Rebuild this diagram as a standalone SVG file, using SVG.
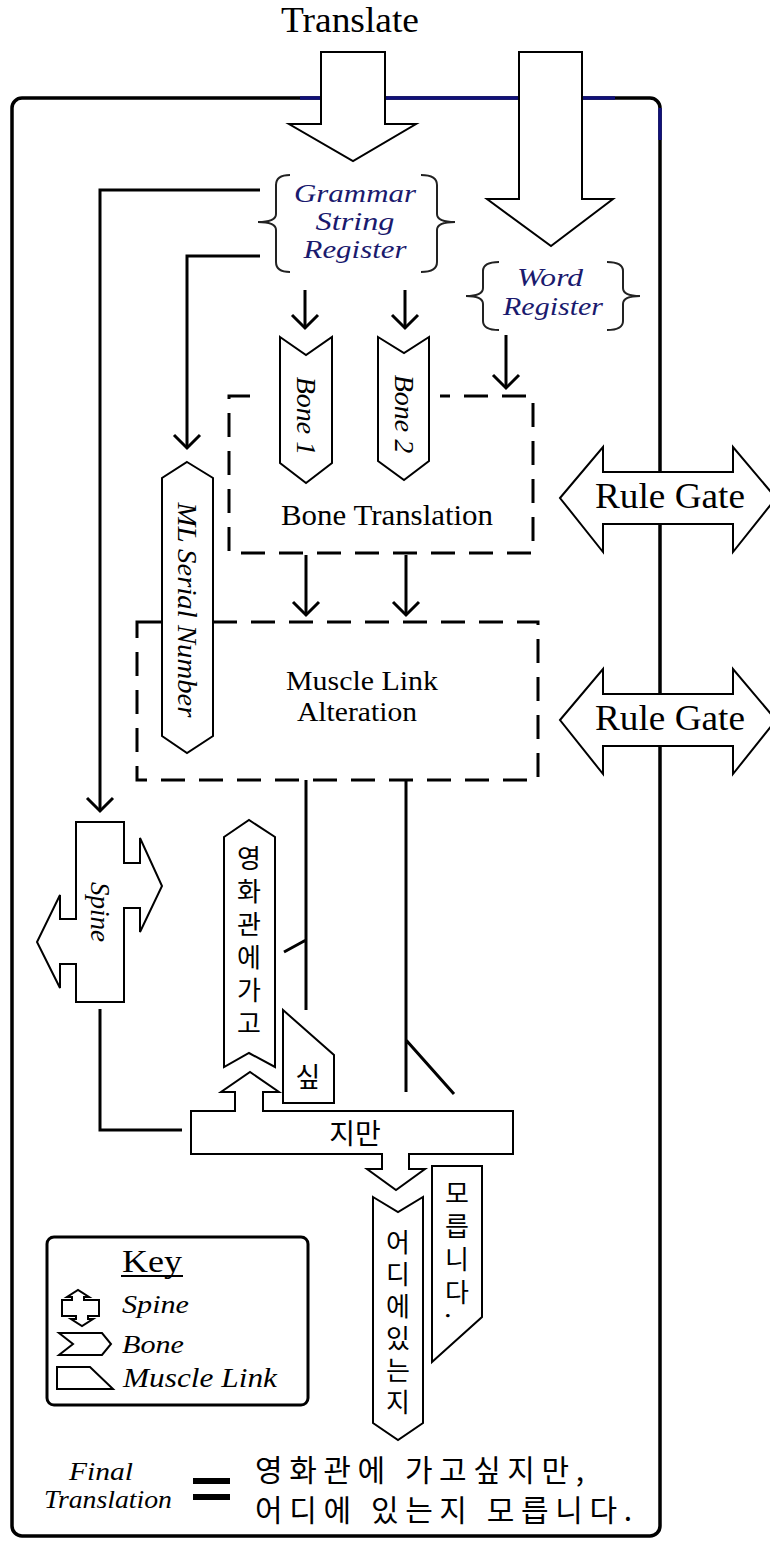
<svg xmlns="http://www.w3.org/2000/svg" width="770" height="1541" viewBox="0 0 770 1541">
<style>
.ln{stroke:#000;stroke-width:3;fill:none}
.sh{fill:#fff;stroke:#000;stroke-width:2;stroke-linejoin:miter}
.dash{fill:none;stroke:#000;stroke-width:3;stroke-dasharray:24 14}
.br{fill:none;stroke:#222;stroke-width:2}
.serif{font-family:"Liberation Serif","Times New Roman",serif;fill:#000}
.it{font-style:italic}
.navy{fill:#1a1a6e}
.kr{font-family:"Noto Sans CJK KR","Noto Sans",sans-serif;fill:#000}
.vt{writing-mode:vertical-rl;font-size:26px}
</style>
<defs>
<marker id="arr" markerUnits="userSpaceOnUse" markerWidth="32" markerHeight="32" viewBox="-16 -16 32 32" refX="0" refY="0" orient="auto">
<path d="M-13,-13 L0,0 L-13,13" fill="none" stroke="#000" stroke-width="3"/>
</marker>
</defs>
<rect width="770" height="1541" fill="#fff"/>

<g id="frame">
<rect x="12" y="98" width="648" height="1438" rx="10" ry="10" fill="none" stroke="#000" stroke-width="3.5"/>
<path d="M300 98 H322 M385 98 H520 M582 98 H615 M660 108 V140" stroke="#10107a" stroke-width="3.5" fill="none"/>
</g>

<g id="title">
<text class="serif" x="350" y="32" font-size="35" text-anchor="middle" textLength="138" lengthAdjust="spacingAndGlyphs">Translate</text>
</g>

<g id="connectors">
<path class="ln" d="M305 290 V328" marker-end="url(#arr)"/>
<path class="ln" d="M405 290 V328" marker-end="url(#arr)"/>
<path class="ln" d="M506 335 V388" marker-end="url(#arr)"/>
<path class="ln" d="M260 256 H187 V448" marker-end="url(#arr)"/>
<path class="ln" d="M260 190 H100 V811" marker-end="url(#arr)"/>
<path class="ln" d="M306 555 V615" marker-end="url(#arr)"/>
<path class="ln" d="M406 555 V615" marker-end="url(#arr)"/>
<path class="ln" d="M100 1009 V1130 H182"/>
<path class="ln" d="M306 780 V1010 M306 940 L284 952"/>
<path class="ln" d="M406 780 V1092 M406 1040 L454 1094"/>
</g>

<g id="arrow-translate-1">
<polygon class="sh" points="321,52 385,52 385,124 416,124 353,161 289,124 321,124"/>
</g>
<g id="arrow-translate-2">
<polygon class="sh" points="519,52 582,52 582,199 613,199 551,246 487,199 519,199"/>
</g>

<g id="grammar-string-register">
<path class="br" d="M290 175 Q276 175 276 185 V214 Q276 222 258 222 Q276 222 276 230 V262 Q276 272 290 272"/>
<path class="br" d="M421 175 Q437 175 437 185 V214 Q437 222 455 222 Q437 222 437 230 V262 Q437 272 421 272"/>
<text class="serif it navy" x="355" y="202" font-size="26" text-anchor="middle" textLength="122" lengthAdjust="spacingAndGlyphs">Grammar</text>
<text class="serif it navy" x="355" y="230" font-size="26" text-anchor="middle" textLength="79" lengthAdjust="spacingAndGlyphs">String</text>
<text class="serif it navy" x="355" y="258" font-size="26" text-anchor="middle" textLength="103" lengthAdjust="spacingAndGlyphs">Register</text>
</g>

<g id="word-register">
<path class="br" d="M499 262 Q483 262 483 271 V288 Q483 296 466 296 Q483 296 483 304 V321 Q483 330 499 330"/>
<path class="br" d="M607 262 Q623 262 623 271 V288 Q623 296 640 296 Q623 296 623 304 V321 Q623 330 607 330"/>
<text class="serif it navy" x="550" y="286" font-size="26" text-anchor="middle" textLength="66" lengthAdjust="spacingAndGlyphs">Word</text>
<text class="serif it navy" x="553" y="315" font-size="26" text-anchor="middle" textLength="100" lengthAdjust="spacingAndGlyphs">Register</text>
</g>

<g id="bone-translation">
<path class="dash" d="M250 396 H229 V553 H533 V396 H440"/>
<text class="serif" x="387" y="525" font-size="29" text-anchor="middle" textLength="212" lengthAdjust="spacingAndGlyphs">Bone Translation</text>
</g>

<g id="bone-1">
<polygon class="sh" points="280,337 306,355 332,337 332,463 306,483 280,463"/>
<text class="serif it" transform="translate(306,416) rotate(90)" x="0" y="9" font-size="28" text-anchor="middle">Bone 1</text>
</g>
<g id="bone-2">
<polygon class="sh" points="378,337 404,353 429,337 429,461 404,480 378,461"/>
<text class="serif it" transform="translate(404,414) rotate(90)" x="0" y="9" font-size="28" text-anchor="middle">Bone 2</text>
</g>

<g id="muscle-link-alteration">
<rect class="dash" x="137" y="622" width="401" height="158"/>
<text class="serif" x="362" y="690" font-size="28" text-anchor="middle" textLength="152" lengthAdjust="spacingAndGlyphs">Muscle Link</text>
<text class="serif" x="357" y="721" font-size="28" text-anchor="middle" textLength="120" lengthAdjust="spacingAndGlyphs">Alteration</text>
</g>

<g id="ml-serial-number">
<polygon class="sh" points="187,462 213,478 213,736 187,753 162,736 162,478"/>
<text class="serif it" transform="translate(187,610) rotate(90)" x="0" y="9" font-size="28" text-anchor="middle" textLength="215" lengthAdjust="spacingAndGlyphs">ML Serial Number</text>
</g>

<g id="rule-gate-1">
<polygon class="sh" points="560,498 603,447 603,472 733,472 733,447 776,498 733,552 733,524 603,524 603,552"/>
<text class="serif" x="670" y="508" font-size="35" text-anchor="middle" textLength="150" lengthAdjust="spacingAndGlyphs">Rule Gate</text>
</g>
<g id="rule-gate-2">
<polygon class="sh" points="560,720 603,669 603,694 733,694 733,669 776,720 733,774 733,746 603,746 603,774"/>
<text class="serif" x="670" y="730" font-size="35" text-anchor="middle" textLength="150" lengthAdjust="spacingAndGlyphs">Rule Gate</text>
</g>

<g id="spine">
<polygon class="sh" points="76,822 124,822 124,863 140,863 140,838 162,886 140,932 140,908 124,908 124,1002 76,1002 76,964 60,964 60,988 37,942 60,895 60,919 76,919"/>
<text class="serif it" transform="translate(100,912) rotate(90)" x="0" y="9" font-size="27" text-anchor="middle">Spine</text>
</g>

<g id="bone-yeonghwagwan">
<polygon class="sh" points="224,837 249,820 275,837 275,1067 249,1053 224,1067"/>
<text class="kr vt" x="249" y="845" letter-spacing="7">영화관에가고</text>
</g>

<g id="muscle-sip">
<polygon class="sh" points="283,1010 334,1055 334,1103 283,1103"/>
<text class="kr" x="308" y="1087" font-size="27" text-anchor="middle">싶</text>
</g>

<g id="spine-jiman">
<polygon class="sh" points="191,1111 235,1111 235,1092 221,1092 250,1072 279,1092 263,1092 263,1111 513,1111 513,1154 409,1154 409,1169 425,1169 396,1190 367,1169 382,1169 382,1154 191,1154"/>
<text class="kr" x="355" y="1144" font-size="28" text-anchor="middle">지만</text>
</g>

<g id="bone-eodie">
<polygon class="sh" points="373,1197 398,1212 423,1197 423,1423 398,1440 373,1423"/>
<text class="kr vt" x="398" y="1229" letter-spacing="6">어디에있는지</text>
</g>

<g id="muscle-moreumnida">
<polygon class="sh" points="432,1166 482,1166 482,1317 432,1362"/>
<text class="kr vt" x="457" y="1180" letter-spacing="7">모릅니다.</text>
</g>

<g id="key">
<rect x="47" y="1237" width="261" height="168" rx="7" ry="7" fill="#fff" stroke="#000" stroke-width="3"/>
<text class="serif" x="152" y="1272" font-size="32" text-anchor="middle" textLength="60" lengthAdjust="spacingAndGlyphs">Key</text>
<line x1="121" y1="1276" x2="183" y2="1276" stroke="#000" stroke-width="2"/>
<polygon class="sh" stroke-width="1.8" points="62,1300 72,1300 72,1297 67,1297 78,1290 89,1297 84,1297 84,1300 99,1300 99,1316 88,1316 88,1319 93,1319 82,1326 71,1319 76,1319 76,1316 62,1316"/>
<text class="serif it" x="122" y="1313" font-size="26" textLength="67" lengthAdjust="spacingAndGlyphs">Spine</text>
<polygon class="sh" stroke-width="1.8" points="59,1333 102,1333 111,1344 102,1355 59,1355 73,1344"/>
<text class="serif it" x="122" y="1353" font-size="26" textLength="62" lengthAdjust="spacingAndGlyphs">Bone</text>
<polygon class="sh" stroke-width="1.8" points="57,1367 90,1367 113,1389 57,1389"/>
<text class="serif it" x="123" y="1387" font-size="27" textLength="154" lengthAdjust="spacingAndGlyphs">Muscle Link</text>
</g>

<g id="final-translation">
<text class="serif it" x="101" y="1480" font-size="26" text-anchor="middle" textLength="64" lengthAdjust="spacingAndGlyphs">Final</text>
<text class="serif it" x="108" y="1508" font-size="26" text-anchor="middle" textLength="128" lengthAdjust="spacingAndGlyphs">Translation</text>
<rect x="193" y="1478" width="37" height="6" fill="#000"/>
<rect x="193" y="1494" width="37" height="6" fill="#000"/>
<text class="kr" x="255" y="1481" font-size="30" textLength="329" lengthAdjust="spacing">영화관에 가고싶지만,</text>
<text class="kr" x="255" y="1521" font-size="30" textLength="377" lengthAdjust="spacing">어디에 있는지 모릅니다.</text>
</g>
</svg>
